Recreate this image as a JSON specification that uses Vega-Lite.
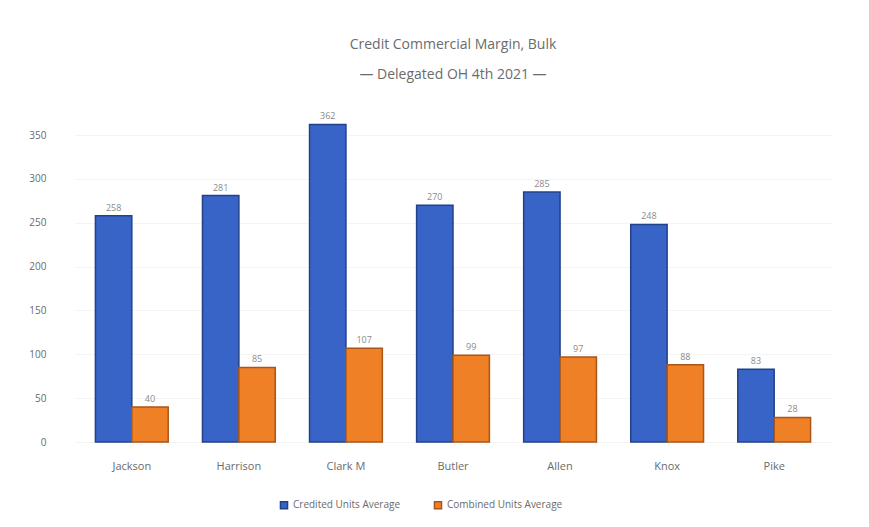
{
  "$schema": "https://vega.github.io/schema/vega-lite/v6.json",
  "width": 758,
  "height": 307,
  "padding": {"left": 28, "top": 38, "right": 20, "bottom": 10},
  "background": "white",
  "title": {
    "text": ["Credit Commercial Margin, Bulk", "— Delegated OH 4th 2021 —"],
    "fontSize": 14,
    "font": "Open Sans",
    "fontWeight": "normal",
    "color": "#6b6b6b",
    "offset": 30,
    "lineHeight": 30
  },
  "config": {
    "view": {"stroke": null},
    "font": "Open Sans"
  },
  "data": {
    "values": [
      {"county": "Jackson", "series": "Credited Units Average", "value": 258},
      {"county": "Jackson", "series": "Combined Units Average", "value": 40},
      {"county": "Harrison", "series": "Credited Units Average", "value": 281},
      {"county": "Harrison", "series": "Combined Units Average", "value": 85},
      {"county": "Clark M", "series": "Credited Units Average", "value": 362},
      {"county": "Clark M", "series": "Combined Units Average", "value": 107},
      {"county": "Butler", "series": "Credited Units Average", "value": 270},
      {"county": "Butler", "series": "Combined Units Average", "value": 99},
      {"county": "Allen", "series": "Credited Units Average", "value": 285},
      {"county": "Allen", "series": "Combined Units Average", "value": 97},
      {"county": "Knox", "series": "Credited Units Average", "value": 248},
      {"county": "Knox", "series": "Combined Units Average", "value": 88},
      {"county": "Pike", "series": "Credited Units Average", "value": 83},
      {"county": "Pike", "series": "Combined Units Average", "value": 28}
    ]
  },
  "encoding": {
    "x": {
      "field": "county",
      "type": "nominal",
      "sort": null,
      "title": null,
      "scale": {"paddingInner": 0.32, "paddingOuter": 0.2},
      "axis": {"labelAngle": 0, "domain": false, "ticks": false, "labelColor": "#6b6b6b", "labelFontSize": 11, "labelPadding": 18}
    },
    "xOffset": {"field": "series", "type": "nominal", "sort": ["Credited Units Average", "Combined Units Average"]},
    "y": {
      "field": "value",
      "type": "quantitative",
      "title": null,
      "scale": {"domain": [0, 350], "clamp": false},
      "axis": {"values": [0, 50, 100, 150, 200, 250, 300, 350], "domain": false, "ticks": false, "grid": true, "gridColor": "#f4f4f4", "labelColor": "#6b6b6b", "labelFontSize": 10, "labelPadding": 28}
    }
  },
  "layer": [
    {
      "mark": {"type": "bar", "clip": false, "strokeWidth": 1.5},
      "encoding": {
        "color": {
          "field": "series",
          "type": "nominal",
          "sort": ["Credited Units Average", "Combined Units Average"],
          "scale": {"domain": ["Credited Units Average", "Combined Units Average"], "range": ["#3764c6", "#f08026"]},
          "legend": {"orient": "none", "legendX": 205, "legendY": 365, "direction": "horizontal", "title": null, "symbolType": "square", "symbolSize": 50, "labelColor": "#6b6b6b", "labelFontSize": 10, "columnPadding": 30}
        },
        "stroke": {
          "field": "series",
          "type": "nominal",
          "scale": {"domain": ["Credited Units Average", "Combined Units Average"], "range": ["#23418a", "#a8561a"]},
          "legend": null
        }
      }
    },
    {
      "mark": {"type": "text", "dy": -8, "fontSize": 9, "color": "#8a8a8a", "clip": false},
      "encoding": {"text": {"field": "value", "type": "quantitative"}}
    }
  ]
}
